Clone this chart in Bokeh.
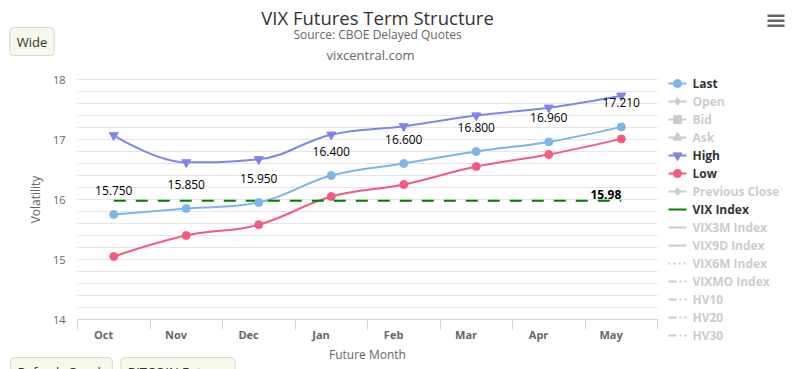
from bokeh.plotting import figure
from bokeh.models import Range1d, FixedTicker, Label, ColumnDataSource, LinearAxis
from bokeh.core.properties import value
from bokeh.embed import file_html
from bokeh.resources import INLINE

# ---------------- data ----------------
months = ["Oct", "Nov", "Dec", "Jan", "Feb", "Mar", "Apr", "May"]
last = [15.75, 15.85, 15.95, 16.40, 16.60, 16.80, 16.96, 17.21]
high = [17.07, 16.62, 16.67, 17.08, 17.22, 17.40, 17.53, 17.73]
low = [15.05, 15.40, 15.58, 16.05, 16.25, 16.55, 16.75, 17.01]
vix_index = 15.98
y_ticks = [14, 15, 16, 17, 18]
y_min, y_max = 14, 18

legend_names = ["Last", "Open", "Bid", "Ask", "High", "Low", "Previous Close",
                "VIX Index", "VIX3M Index", "VIX9D Index", "VIX6M Index",
                "VIXMO Index", "HV10", "HV20", "HV30"]
legend_active = [True, False, False, False, True, True, False,
                 True, False, False, False, False, False, False, False]
legend_markers = ["circle", "diamond", "square", "triangle", "inverted_triangle",
                  "circle", "diamond", None, None, None, None, None, None, None, None]
legend_dash = ["solid"] * 10 + ["2 3", "8 3 2 3", "8 3 2 3", "8 3 2 3", "8 3 2 3"]

C_LAST = "#7cb5ec"
C_HIGH = "#8085e9"
C_LOW = "#f15c80"
C_VIX = "#008000"
C_GREY = "#cccccc"
FONT_NAME = "Open Sans"
FONT = value(FONT_NAME)

legend_colors = [C_LAST, C_GREY, C_GREY, C_GREY, C_HIGH, C_LOW, C_GREY,
                 C_VIX] + [C_GREY] * 7

# ---------------- page geometry (pixels) ----------------
W, H = 795, 369
PLOT_L, PLOT_R, PLOT_T, PLOT_B = 77, 657, 79, 319
n = len(months)
PX_X = (PLOT_R - PLOT_L) / n
PX_Y = (PLOT_B - PLOT_T) / (y_max - y_min)


def dx(px):
    return (px - PLOT_L) / PX_X


def dy(py):
    return y_min + (PLOT_B - py) / PX_Y


def spline_segments(xs, ys, smoothing=1.5):
    m = len(xs)
    denom = smoothing + 1
    lc = [(xs[i], ys[i]) for i in range(m)]
    rc = [(xs[i], ys[i]) for i in range(m)]
    for i in range(1, m - 1):
        px, py = xs[i], ys[i]
        lx, ly = xs[i - 1], ys[i - 1]
        nx, ny = xs[i + 1], ys[i + 1]
        lcx = (smoothing * px + lx) / denom
        lcy = (smoothing * py + ly) / denom
        rcx = (smoothing * px + nx) / denom
        rcy = (smoothing * py + ny) / denom
        corr = 0.0
        if rcx != lcx:
            corr = (rcy - lcy) * (rcx - px) / (rcx - lcx) + py - rcy
        lcy += corr
        rcy += corr
        if lcy > ly and lcy > py:
            lcy = max(ly, py); rcy = 2 * py - lcy
        elif lcy < ly and lcy < py:
            lcy = min(ly, py); rcy = 2 * py - lcy
        if rcy > ny and rcy > py:
            rcy = max(ny, py); lcy = 2 * py - rcy
        elif rcy < ny and rcy < py:
            rcy = min(ny, py); lcy = 2 * py - rcy
        lc[i] = (lcx, lcy)
        rc[i] = (rcx, rcy)
    return dict(
        x0=xs[:-1], y0=ys[:-1], x1=xs[1:], y1=ys[1:],
        cx0=[rc[i][0] for i in range(m - 1)], cy0=[rc[i][1] for i in range(m - 1)],
        cx1=[lc[i + 1][0] for i in range(m - 1)], cy1=[lc[i + 1][1] for i in range(m - 1)],
    )


xc = [i + 0.5 for i in range(n)]
label_ticks = [i + 0.36 for i in range(n)]

# ---------------- figure: frame covers the whole canvas ----------------
p = figure(width=W, height=H, output_backend="svg", toolbar_location=None,
           x_axis_location=None, y_axis_location=None,
           x_range=Range1d(dx(0), dx(W)), y_range=Range1d(dy(H), dy(0)), min_border=0)
p.outline_line_color = None
p.background_fill_color = "white"
p.border_fill_color = "white"
p.xgrid.visible = False
p.ygrid.visible = False

# horizontal grid lines inside the plot area
minor_y = [y_min + 0.2 * k for k in range(int((y_max - y_min) / 0.2) + 1)]
p.segment(x0=[0] * len(minor_y), x1=[n] * len(minor_y), y0=minor_y, y1=minor_y,
          line_color="#e6e6e6", line_width=1)

# axes drawn at fixed data locations
xaxis = LinearAxis(fixed_location=y_min, bounds=(0, n),
                   ticker=FixedTicker(ticks=label_ticks, minor_ticks=list(range(n + 1))))
xaxis.major_label_overrides = {t: m for t, m in zip(label_ticks, months)}
xaxis.major_tick_line_color = None
xaxis.major_tick_out = 0
xaxis.major_tick_in = 0
xaxis.minor_tick_out = 10
xaxis.minor_tick_in = 0
xaxis.minor_tick_line_color = "#ccd6eb"
xaxis.axis_line_color = "#ccd6eb"
xaxis.major_label_text_font = FONT_NAME
xaxis.major_label_text_font_style = "bold"
xaxis.major_label_text_font_size = "11px"
xaxis.major_label_text_color = "#666666"
xaxis.major_label_standoff = -3
xaxis.axis_label = "Future Month"
xaxis.axis_label_text_font = FONT_NAME
xaxis.axis_label_text_font_style = "normal"
xaxis.axis_label_text_font_size = "12px"
xaxis.axis_label_text_color = "#666666"
xaxis.axis_label_standoff = 1
p.add_layout(xaxis, "below")

yaxis = LinearAxis(fixed_location=0, bounds=(y_min, y_max),
                   ticker=FixedTicker(ticks=y_ticks, minor_ticks=[]))
yaxis.axis_line_color = None
yaxis.major_tick_line_color = None
yaxis.minor_tick_line_color = None
yaxis.major_tick_out = 0
yaxis.major_tick_in = 0
yaxis.major_label_standoff = 12
yaxis.major_label_text_font = FONT_NAME
yaxis.major_label_text_font_size = "11px"
yaxis.major_label_text_color = "#666666"
yaxis.axis_label = "Volatility"
yaxis.axis_label_text_font = FONT_NAME
yaxis.axis_label_text_font_style = "normal"
yaxis.axis_label_text_font_size = "12px"
yaxis.axis_label_text_color = "#666666"
yaxis.axis_label_standoff = 6
p.add_layout(yaxis, "left")

# series
for ys, col in [(high, C_HIGH), (last, C_LAST), (low, C_LOW)]:
    seg = ColumnDataSource(spline_segments(xc, ys))
    p.bezier(x0="x0", y0="y0", x1="x1", y1="y1", cx0="cx0", cy0="cy0",
             cx1="cx1", cy1="cy1", source=seg, line_color=col, line_width=2)

p.line(xc, [vix_index] * n, line_color=C_VIX, line_width=2, line_dash="12 10")

p.scatter(xc, high, marker="inverted_triangle", size=9, fill_color=C_HIGH, line_color=C_HIGH)
p.scatter(xc, last, marker="circle", size=8, fill_color=C_LAST, line_color=C_LAST)
p.scatter(xc, low, marker="circle", size=8, fill_color=C_LOW, line_color=C_LOW)

p.text(xc, last, text=[f"{v:.3f}" for v in last], y_offset=-24,
       text_align="center", text_baseline="middle", text_font=FONT,
       text_font_size="12px", text_color="#000000")
p.text([xc[-1]], [vix_index], text=[f"{vix_index:.2f}"], y_offset=-2,
       text_align="right", text_baseline="bottom", text_font=FONT,
       text_font_size="12px", text_font_style="bold", text_color="#000000")

# ---------------- titles ----------------
def lab(text, px, py, size, color, style="normal", align="center"):
    p.add_layout(Label(x=px, y=H - py, x_units="screen", y_units="screen", text=text,
                       text_align=align, text_baseline="middle", text_font=FONT_NAME,
                       text_font_size=size, text_font_style=style, text_color=color))

lab("VIX Futures Term Structure", 377, 17, "18.5px", "#333333")
lab("Source: CBOE Delayed Quotes", 377, 34, "12px", "#666666")
lab("vixcentral.com", 370, 54, "13px", "#666666")

# ---------------- legend ----------------
LEG_Y0, LEG_STEP = 83, 18
leg_y = [dy(LEG_Y0 + LEG_STEP * i) for i in range(len(legend_names))]
for i, name in enumerate(legend_names):
    p.line([dx(668), dx(686)], [leg_y[i], leg_y[i]], line_color=legend_colors[i],
           line_width=2, line_dash=legend_dash[i])
    if legend_markers[i]:
        p.scatter([dx(677)], [leg_y[i]], marker=legend_markers[i],
                  size=9 if "triangle" in legend_markers[i] else 8,
                  fill_color=legend_colors[i], line_color=legend_colors[i])
p.text([dx(692)] * len(legend_names), leg_y, text=legend_names,
       text_color=["#333333" if a else C_GREY for a in legend_active],
       text_align="left", text_baseline="middle", text_font=FONT,
       text_font_size="12px", text_font_style="bold")

# ---------------- menu icon ----------------
p.quad(left=[dx(767)] * 3, right=[dx(784)] * 3,
       top=[dy(14), dy(19), dy(24)], bottom=[dy(16.5), dy(21.5), dy(26.5)],
       fill_color="#666666", line_color=None)

# ---------------- page buttons ----------------
for text, cx, cy in [("Wide", 31.5, 41), ("Refresh Graph", 61, 371), ("BITCOIN Futures", 177.5, 371)]:
    p.add_layout(Label(x=cx, y=H - cy, x_units="screen", y_units="screen", text=text,
                       text_align="center", text_baseline="middle", text_font=FONT_NAME,
                       text_font_size="13px", text_color="#333333",
                       background_fill_color="#f7f7ee", border_line_color="#ddd8c4",
                       padding=dict(left=7, right=7, top=5, bottom=5), border_radius=4))

open("out.html", "w").write(file_html(p, INLINE))
